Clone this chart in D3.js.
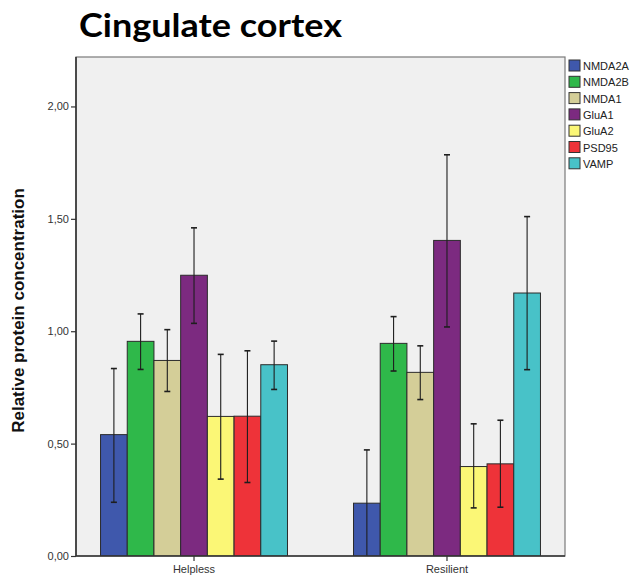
<!DOCTYPE html>
<html>
<head>
<meta charset="utf-8">
<script src="https://cdn.jsdelivr.net/npm/d3@7"></script>
<style>
  html, body { margin: 0; padding: 0; background: #ffffff; }
  svg { display: block; }
</style>
</head>
<body>
<svg id="chart" width="640" height="584"></svg>
<script>
// Groups on the x axis and the proteins measured in each
const groups = ["Helpless", "Resilient"];
const proteins = ["NMDA2A", "NMDA2B", "NMDA1", "GluA1", "GluA2", "PSD95", "VAMP"];
const colors = ["#3F58AC", "#2FB84A", "#D4CE98", "#7C2A80", "#FBF776", "#EE3339", "#48C2C8"];

// Mean relative protein concentration, one array per group (order follows `proteins`)
const helplessMean = [0.54, 0.955, 0.87, 1.249, 0.621, 0.622, 0.851];
const resilientMean = [0.235, 0.946, 0.817, 1.404, 0.398, 0.41, 1.17];

// Error bar limits (lower, upper)
const helplessLow  = [0.239, 0.830, 0.732, 1.035, 0.342, 0.327, 0.741];
const helplessHigh = [0.834, 1.077, 1.007, 1.460, 0.897, 0.913, 0.956];
const resilientLow  = [-0.002, 0.823, 0.696, 1.019, 0.214, 0.217, 0.829];
const resilientHigh = [0.472, 1.065, 0.935, 1.785, 0.588, 0.604, 1.510];

const yTicks = [0, 0.5, 1.0, 1.5, 2.0];

const rows = [];
groups.forEach((g, gi) => {
  const mean = gi === 0 ? helplessMean : resilientMean;
  const lo = gi === 0 ? helplessLow : resilientLow;
  const hi = gi === 0 ? helplessHigh : resilientHigh;
  proteins.forEach((p, pi) => rows.push({ group: g, protein: p, mean: mean[pi], lo: lo[pi], hi: hi[pi], color: colors[pi] }));
});

const svg = d3.select("#chart");
const plot = { left: 76, top: 57, right: 565, bottom: 556 };

const x0 = d3.scaleBand().domain(groups)
  .range([plot.left, plot.right]).paddingInner(0.261).paddingOuter(0.097);
const x1 = d3.scaleBand().domain(proteins).range([0, x0.bandwidth()]).padding(0);
const y = d3.scaleLinear().domain([0, 2.22]).range([plot.bottom, plot.top]);

// Plot background and frame
svg.append("rect")
  .attr("x", plot.left).attr("y", plot.top)
  .attr("width", plot.right - plot.left).attr("height", plot.bottom - plot.top)
  .attr("fill", "#F0F0F0").attr("stroke", "#7a7a7a").attr("stroke-width", 1.2);

// Bars
const clip = svg.append("clipPath").attr("id", "plotclip").append("rect")
  .attr("x", plot.left).attr("y", plot.top)
  .attr("width", plot.right - plot.left).attr("height", plot.bottom - plot.top);

const g = svg.append("g").attr("clip-path", "url(#plotclip)");
g.selectAll("rect.bar").data(rows).join("rect")
  .attr("class", "bar")
  .attr("x", d => x0(d.group) + x1(d.protein))
  .attr("y", d => y(d.mean))
  .attr("width", x1.bandwidth())
  .attr("height", d => y(0) - y(d.mean))
  .attr("fill", d => d.color)
  .attr("stroke", "#2b2b2b").attr("stroke-width", 1);

// Error bars
const capW = 6;
const eb = g.selectAll("g.err").data(rows).join("g").attr("class", "err")
  .attr("transform", d => `translate(${x0(d.group) + x1(d.protein) + x1.bandwidth() / 2},0)`);
eb.append("line")
  .attr("y1", d => y(d.lo)).attr("y2", d => y(d.hi))
  .attr("stroke", "#1e1e1e").attr("stroke-width", 1.1);
eb.append("line")
  .attr("x1", -capW / 2).attr("x2", capW / 2)
  .attr("y1", d => y(d.hi)).attr("y2", d => y(d.hi))
  .attr("stroke", "#1e1e1e").attr("stroke-width", 1.6);
eb.filter(d => d.lo > 0).append("line")
  .attr("x1", -capW / 2).attr("x2", capW / 2)
  .attr("y1", d => y(d.lo)).attr("y2", d => y(d.lo))
  .attr("stroke", "#1e1e1e").attr("stroke-width", 1.6);

// Y axis
const yAxis = svg.append("g").attr("transform", `translate(${plot.left},0)`)
  .call(d3.axisLeft(y).tickValues(yTicks).tickSize(5).tickPadding(2)
    .tickFormat(d => d3.format(".2f")(d).replace(".", ",")));
yAxis.select(".domain").attr("stroke", "#333").attr("stroke-width", 1.6)
  .attr("d", `M0,${plot.top}V${plot.bottom}`);
yAxis.selectAll(".tick line").attr("stroke", "#333").attr("stroke-width", 1.2);
yAxis.selectAll(".tick text").attr("fill", "#333")
  .style("font-family", "Liberation Sans, Arial, sans-serif").style("font-size", "11px");

// X axis
const xAxis = svg.append("g").attr("transform", `translate(0,${plot.bottom})`)
  .call(d3.axisBottom(x0).tickSize(5).tickPadding(4));
xAxis.select(".domain").attr("stroke", "#333").attr("stroke-width", 1.6)
  .attr("d", `M${plot.left},0H${plot.right}`);
xAxis.selectAll(".tick line").attr("stroke", "#333").attr("stroke-width", 1.2);
xAxis.selectAll(".tick text").attr("fill", "#333")
  .style("font-family", "Liberation Sans, Arial, sans-serif").style("font-size", "11px");

// Title
svg.append("text")
  .attr("x", 79).attr("y", 37)
  .attr("textLength", 263).attr("lengthAdjust", "spacingAndGlyphs")
  .style("font-family", "Lato, 'Open Sans', sans-serif").style("font-weight", "bold")
  .style("font-size", "32px").attr("fill", "#000")
  .text("Cingulate cortex");

// Y axis title
svg.append("text")
  .attr("transform", `translate(24,${(plot.top + plot.bottom) / 2 + 4}) rotate(-90)`)
  .attr("text-anchor", "middle")
  .style("font-family", "Liberation Sans, Arial, sans-serif").style("font-weight", "bold")
  .style("font-size", "17px").attr("fill", "#111")
  .text("Relative protein concentration");

// Legend
const legend = svg.append("g").attr("transform", "translate(569,60)");
const item = legend.selectAll("g").data(proteins).join("g")
  .attr("transform", (d, i) => `translate(0,${i * 16.3})`);
item.append("rect").attr("width", 11).attr("height", 11)
  .attr("fill", (d, i) => colors[i]).attr("stroke", "#333").attr("stroke-width", 1);
item.append("text").attr("x", 14).attr("y", 10)
  .style("font-family", "Liberation Sans, Arial, sans-serif").style("font-size", "11px")
  .attr("fill", "#222").text(d => d);
</script>
</body>
</html>
